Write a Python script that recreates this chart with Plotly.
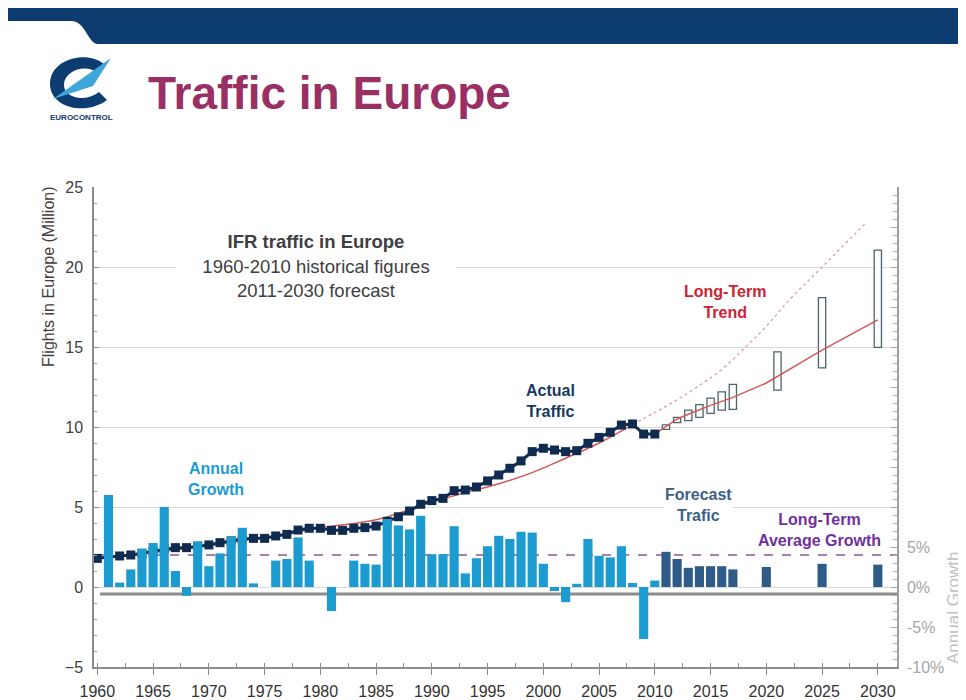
import plotly.graph_objects as go

# ---------------- data ----------------
traffic_years = list(range(1960, 2011))
traffic_millions = [1.79, 1.88, 1.94, 2.00, 2.10, 2.22, 2.35, 2.46, 2.46, 2.55,
                    2.63, 2.77, 2.88, 3.00, 3.04, 3.04, 3.19, 3.29, 3.56, 3.67,
                    3.67, 3.54, 3.54, 3.67, 3.71, 3.81, 4.10, 4.39, 4.75, 5.17,
                    5.40, 5.54, 6.02, 6.06, 6.25, 6.63, 7.00, 7.42, 7.88, 8.46,
                    8.67, 8.56, 8.46, 8.52, 8.98, 9.35, 9.67, 10.12, 10.19, 9.56,
                    9.56]

growth_years = list(range(1961, 2011))
growth_pct = [11.5, 0.55, 2.2, 4.8, 5.5, 10.0, 2.0, -1.1, 5.7, 2.6,
              4.2, 6.3, 7.4, 0.45, 0.0, 3.3, 3.5, 6.2, 3.3, 0.0,
              -3.0, 0.0, 3.3, 2.9, 2.8, 8.5, 7.7, 7.2, 8.9, 4.1,
              4.1, 7.6, 1.7, 3.6, 5.1, 6.4, 6.0, 6.9, 6.8, 2.9,
              -0.5, -1.9, 0.4, 6.0, 3.9, 3.7, 5.1, 0.5, -6.5, 0.8]

fc_growth_years = [2011, 2012, 2013, 2014, 2015, 2016, 2017, 2020, 2025, 2030]
fc_growth_pct = [4.4, 3.5, 2.4, 2.6, 2.6, 2.6, 2.2, 2.5, 2.9, 2.8]

fc_box_years = [2011, 2012, 2013, 2014, 2015, 2016, 2017, 2021, 2025, 2030]
fc_box_low = [9.85, 10.27, 10.40, 10.60, 10.85, 11.06, 11.10, 12.30, 13.70, 14.98]
fc_box_high = [10.13, 10.60, 11.06, 11.40, 11.80, 12.20, 12.67, 14.70, 18.08, 21.06]

trend_hist_years = [1965, 1970, 1975, 1980, 1985, 1990, 1993, 1996, 1999, 2002, 2005, 2008]
trend_hist_vals = [2.15, 2.60, 3.10, 3.70, 4.20, 5.30, 5.90, 6.45, 7.15, 8.05, 9.00, 10.15]

trend_ext_years = [2008, 2010, 2012, 2014, 2016, 2018, 2020, 2022, 2024, 2026, 2028, 2029]
trend_ext_vals = [10.15, 10.9, 11.7, 12.6, 13.6, 14.9, 16.3, 17.9, 19.3, 20.7, 22.1, 22.8]

fc_line_years = [2010, 2011, 2012, 2013, 2014, 2015, 2016, 2017, 2020, 2025, 2030]
fc_line_vals = [9.55, 10.0, 10.5, 10.8, 11.1, 11.35, 11.6, 11.85, 12.75, 14.8, 16.7]

long_term_avg_growth = 4.0
baseline_value = -0.44

left_ticks = [-5, 0, 5, 10, 15, 20, 25]
right_ticks = list(range(-10, 51, 5))
right_ticktext = ["-10%", "-5%", "0%", "5%"] + [""] * (len(right_ticks) - 4)

FONT = "Liberation Sans, Arial, sans-serif"

# page body has an 8px margin; figure is sized so page == window
OFF = 8
W, H = 966 - OFF, 700 - OFF
# plot area in reference (window) pixels
L, R, T, B = 94, 897, 187, 667


def PX(x):
    return (x - L) / (R - L)


def PY(y):
    return (B - y) / (B - T)


fig = go.Figure()

# forecast boxes (range) on left axis
fig.add_trace(go.Bar(
    x=fc_box_years,
    y=[h - l for h, l in zip(fc_box_high, fc_box_low)],
    base=fc_box_low,
    width=0.65,
    marker=dict(color="white", line=dict(color="#50636b", width=1.3)),
    yaxis="y", hoverinfo="skip", showlegend=False))

# trend lines
fig.add_trace(go.Scatter(
    x=trend_hist_years, y=trend_hist_vals, mode="lines",
    line=dict(color="#d45555", width=1.5, shape="spline"),
    showlegend=False, hoverinfo="skip"))
fig.add_trace(go.Scatter(
    x=trend_ext_years, y=trend_ext_vals, mode="lines",
    line=dict(color="#d9a3a3", width=1.3, dash="dot", shape="spline"),
    showlegend=False, hoverinfo="skip"))
fig.add_trace(go.Scatter(
    x=fc_line_years, y=fc_line_vals, mode="lines",
    line=dict(color="#cf5a5a", width=1.5),
    showlegend=False, hoverinfo="skip"))

# actual traffic
fig.add_trace(go.Scatter(
    x=traffic_years, y=traffic_millions, mode="lines+markers",
    line=dict(color="#0f2b4f", width=3),
    marker=dict(symbol="square", size=9, color="#0f2b4f"),
    showlegend=False))

# growth bars on right axis
fig.add_trace(go.Bar(
    x=growth_years, y=growth_pct, yaxis="y2", width=0.82,
    marker=dict(color="#1c9bd0", line=dict(width=0)),
    showlegend=False))
fig.add_trace(go.Bar(
    x=fc_growth_years, y=fc_growth_pct, yaxis="y2", width=0.82,
    marker=dict(color="#2e5b88", line=dict(width=0)),
    showlegend=False))

shapes = []
# header banner
banner = (f"M {PX(0)} {PY(8)} L {PX(966)} {PY(8)} L {PX(966)} {PY(44)} "
          f"L {PX(98)} {PY(44)} C {PX(88)} {PY(44)} {PX(86)} {PY(22)} {PX(72)} {PY(21)} "
          f"L {PX(0)} {PY(21)} Z")
shapes.append(dict(type="path", xref="paper", yref="paper", path=banner,
                   fillcolor="#0d3c70", line=dict(width=0), layer="above"))
# logo: navy crescent
cres = (f"M {PX(104)} {PY(64)} C {PX(88)} {PY(50)} {PX(50)} {PY(58)} {PX(50)} {PY(84)} "
        f"C {PX(50)} {PY(108)} {PX(86)} {PY(116)} {PX(107)} {PY(100)} "
        f"L {PX(99)} {PY(92)} C {PX(85)} {PY(103)} {PX(63)} {PY(98)} {PX(64)} {PY(84)} "
        f"C {PX(65)} {PY(70)} {PX(86)} {PY(64)} {PX(96)} {PY(72)} Z")
shapes.append(dict(type="path", xref="paper", yref="paper", path=cres,
                   fillcolor="#0d3c70", line=dict(width=0), layer="above"))
wing = (f"M {PX(53)} {PY(99)} L {PX(111)} {PY(58)} L {PX(93)} {PY(86)} Z")
shapes.append(dict(type="path", xref="paper", yref="paper", path=wing,
                   fillcolor="#3fa6dc", line=dict(width=0), layer="above"))

# gray baseline and long-term average dashed line
shapes.append(dict(type="line", xref="paper", yref="y", x0=PX(100), x1=1.0,
                   y0=baseline_value, y1=baseline_value,
                   line=dict(color="#8c8c8c", width=3), layer="below"))
shapes.append(dict(type="line", xref="paper", yref="y2", x0=PX(98), x1=1.0,
                   y0=long_term_avg_growth, y1=long_term_avg_growth,
                   line=dict(color="#8b5a8b", width=1.5, dash="dash"), layer="below"))

annotations = [
    dict(text="<b>Traffic in Europe</b>", x=PX(146), y=PY(93), xanchor="left", yanchor="middle",
         font=dict(family=FONT, size=46, color="#9a2f63")),
    dict(text="<b>EUROCONTROL</b>", x=PX(81), y=PY(117), xanchor="center", yanchor="middle",
         font=dict(family=FONT, size=8, color="#0d3c70")),
    dict(text="<b>IFR traffic in Europe</b><br>1960-2010 historical figures<br>2011-2030 forecast",
         x=PX(316), y=PY(266), xanchor="center", yanchor="middle", width=276, height=80,
         bgcolor="white", font=dict(family=FONT, size=18.5, color="#404040")),
    dict(text="<b>Annual<br>Growth</b>", x=PX(216), y=PY(479), xanchor="center", yanchor="middle",
         font=dict(family=FONT, size=16, color="#1c9bd0")),
    dict(text="<b>Actual<br>Traffic</b>", x=PX(550), y=PY(401), xanchor="center", yanchor="middle",
         font=dict(family=FONT, size=16, color="#173a60")),
    dict(text="<b>Long-Term<br>Trend</b>", x=PX(725), y=PY(302), xanchor="center", yanchor="middle",
         font=dict(family=FONT, size=16, color="#cc2233")),
    dict(text="<b>Forecast<br>Trafic</b>", x=PX(698), y=PY(505), xanchor="center", yanchor="middle",
         bgcolor="white", font=dict(family=FONT, size=16, color="#3d6185")),
    dict(text="<b>Long-Term<br>Average Growth</b>", x=PX(819), y=PY(530), xanchor="center", yanchor="middle",
         font=dict(family=FONT, size=16, color="#7030a0")),
    dict(text="Flights in Europe (Million)", x=PX(48), y=PY(277), xanchor="center", yanchor="middle",
         textangle=-90, font=dict(family=FONT, size=16, color="#404040")),
    dict(text="Annual Growth", x=PX(953), y=PY(608), xanchor="center", yanchor="middle",
         textangle=-90, font=dict(family=FONT, size=17, color="#c0c0c0")),
]
for a in annotations:
    a.setdefault("xref", "paper")
    a.setdefault("yref", "paper")
    a["showarrow"] = False

fig.update_layout(
    template="none",
    width=W, height=H,
    margin=dict(l=L - OFF, r=966 - R, t=T - OFF, b=700 - B, pad=0),
    paper_bgcolor="white", plot_bgcolor="white",
    barmode="overlay",
    showlegend=False,
    font=dict(family=FONT),
    shapes=shapes,
    annotations=annotations,
    xaxis=dict(
        range=[1959.7, 2031.72], tick0=1960, dtick=5, tickmode="linear",
        showgrid=False, zeroline=False,
        showline=True, linecolor="#8c8c8c", linewidth=1.5,
        ticks="outside", ticklen=6, tickcolor="#8c8c8c", tickwidth=1,
        minor=dict(tick0=1960, dtick=2.5, ticks="inside", ticklen=4, tickcolor="#8c8c8c", showgrid=False),
        tickfont=dict(family=FONT, size=16, color="#333333"),
        ticklabelstandoff=3,
    ),
    yaxis=dict(
        range=[-5, 25], tickmode="array", tickvals=left_ticks,
        showgrid=True, gridcolor="#d9d9d9", gridwidth=1, zeroline=False,
        showline=True, linecolor="#8c8c8c", linewidth=1.5,
        ticks="inside", ticklen=5, tickcolor="#8c8c8c",
        minor=dict(dtick=1, tick0=0, ticks="inside", ticklen=3, tickcolor="#a0a0a0", showgrid=False),
        tickfont=dict(family=FONT, size=16, color="#404040"),
        ticklabelstandoff=6,
    ),
    yaxis2=dict(
        range=[-10, 50], overlaying="y", side="right",
        tickmode="array", tickvals=right_ticks, ticktext=right_ticktext,
        showgrid=False, zeroline=False,
        showline=True, linecolor="#a0a0a0", linewidth=1.5,
        ticks="inside", ticklen=6, tickcolor="#a0a0a0",
        minor=dict(dtick=1, tick0=0, ticks="inside", ticklen=4, tickcolor="#b0b0b0", showgrid=False),
        tickfont=dict(family=FONT, size=16, color="#a6a6a6"),
        ticklabelstandoff=5,
    ),
)

fig.write_html("out.html")
